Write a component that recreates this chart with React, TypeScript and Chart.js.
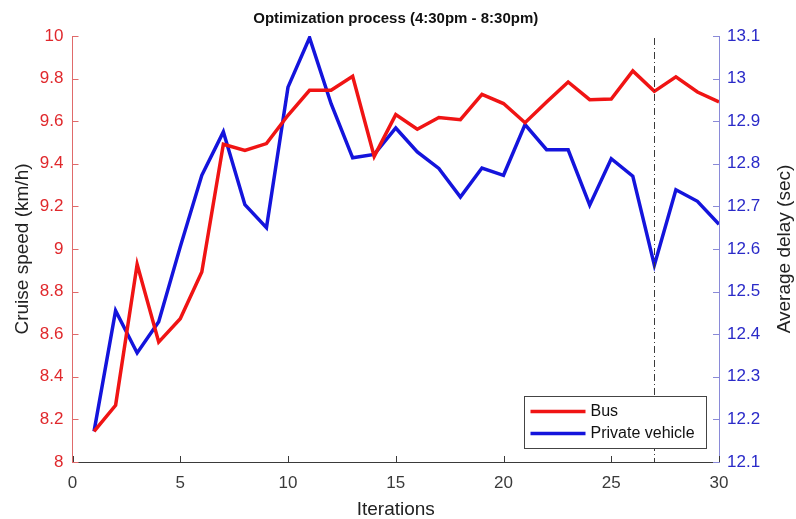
import { useEffect, useRef } from 'react';
import { Chart, registerables } from 'chart.js';

Chart.register(...registerables);

// Iteration index on the x axis
const iterations = [1, 2, 3, 4, 5, 6, 7, 8, 9, 10, 11, 12, 13, 14, 15, 16, 17, 18, 19, 20, 21, 22, 23, 24, 25, 26, 27, 28, 29, 30];

// Bus cruise speed (km/h), left axis
const busSpeed = [8.144, 8.266, 8.928, 8.563, 8.673, 8.892, 9.492, 9.463, 9.495, 9.628, 9.745, 9.745, 9.811, 9.435, 9.631, 9.562, 9.617, 9.607, 9.726, 9.683, 9.593, 9.69, 9.784, 9.701, 9.704, 9.836, 9.74, 9.808, 9.737, 9.69];

// Private vehicle average delay (sec), right axis
const privateDelay = [12.172, 12.455, 12.356, 12.429, 12.605, 12.773, 12.875, 12.704, 12.65, 12.98, 13.096, 12.941, 12.814, 12.822, 12.884, 12.828, 12.789, 12.722, 12.79, 12.773, 12.892, 12.833, 12.833, 12.703, 12.812, 12.771, 12.562, 12.739, 12.712, 12.658];

const seriesNames = ['Bus', 'Private vehicle'];
const selectedIteration = 27;

const titleText = 'Optimization process (4:30pm - 8:30pm)';
const xTitle = 'Iterations';
const leftTitle = 'Cruise speed (km/h)';
const rightTitle = 'Average delay (sec)';

const FONT = "'Liberation Sans', Arial, sans-serif";
const RED = '#f01414';
const BLUE = '#1414dc';
const LEFT_AXIS = '#e06a6a';
const RIGHT_AXIS = '#8a8ad8';
const LEFT_LABEL = '#e0282c';
const RIGHT_LABEL = '#2a2ac8';
const DARK = '#3a3a3a';

const fmt = (v: number) => String(parseFloat(Number(v).toFixed(1)));

const decorations = {
  id: 'decorations',
  afterDraw(chart: any) {
    const { ctx, chartArea: a, scales } = chart;
    const sx = scales.x;
    const sl = scales.y;
    const sr = scales.y1;
    const T = 6;
    ctx.save();
    ctx.lineWidth = 1;

    const seg = (x1: number, y1: number, x2: number, y2: number) => {
      ctx.beginPath();
      ctx.moveTo(x1, y1);
      ctx.lineTo(x2, y2);
      ctx.stroke();
    };

    // marker line at the chosen iteration (dash-dot)
    const mx = Math.round(sx.getPixelForValue(selectedIteration)) + 0.5;
    ctx.strokeStyle = DARK;
    ctx.setLineDash([7, 3, 1, 3]);
    seg(mx, a.top + 2, mx, a.bottom);
    ctx.setLineDash([]);

    // inward tick marks
    ctx.strokeStyle = DARK;
    sx.ticks.forEach((t: any) => {
      const px = Math.round(sx.getPixelForValue(t.value)) + 0.5;
      seg(px, a.bottom, px, a.bottom - T);
    });
    ctx.strokeStyle = LEFT_AXIS;
    sl.ticks.forEach((t: any) => {
      const py = Math.round(sl.getPixelForValue(t.value)) + 0.5;
      seg(a.left, py, a.left + T, py);
    });
    ctx.strokeStyle = RIGHT_AXIS;
    sr.ticks.forEach((t: any) => {
      const py = Math.round(sr.getPixelForValue(t.value)) + 0.5;
      seg(a.right, py, a.right - T, py);
    });

    // title
    ctx.fillStyle = '#111';
    ctx.font = `bold 15px ${FONT}`;
    ctx.textAlign = 'center';
    ctx.textBaseline = 'middle';
    ctx.fillText(titleText, (a.left + a.right) / 2, 19);

    // axis titles
    ctx.fillStyle = '#222';
    ctx.font = `19px ${FONT}`;
    ctx.fillText(xTitle, (a.left + a.right) / 2, 510);
    ctx.save();
    ctx.translate(23, (a.top + a.bottom) / 2);
    ctx.rotate(-Math.PI / 2);
    ctx.fillText(leftTitle, 0, 0);
    ctx.restore();
    ctx.save();
    ctx.translate(785, (a.top + a.bottom) / 2);
    ctx.rotate(-Math.PI / 2);
    ctx.fillText(rightTitle, 0, 0);
    ctx.restore();

    // legend box
    const bx = 524.5, by = 396.5, bw = 182, bh = 52;
    ctx.fillStyle = '#fff';
    ctx.fillRect(bx, by, bw, bh);
    ctx.strokeStyle = '#444';
    ctx.lineWidth = 1;
    ctx.strokeRect(bx, by, bw, bh);
    ctx.font = `16px ${FONT}`;
    ctx.textAlign = 'left';
    ctx.textBaseline = 'middle';
    chart.data.datasets.forEach((ds: any, i: number) => {
      const yy = by + 15 + i * 22;
      ctx.strokeStyle = ds.borderColor;
      ctx.lineWidth = 3.5;
      seg(bx + 6, yy, bx + 61, yy);
      ctx.fillStyle = '#111';
      ctx.fillText(ds.label, bx + 66, yy);
    });
    ctx.restore();
  },
};

export default function App() {
  const ref = useRef<HTMLCanvasElement | null>(null);

  useEffect(() => {
    if (!ref.current) return;
    const chart = new Chart(ref.current, {
      type: 'line',
      data: {
        datasets: [
          {
            label: seriesNames[0],
            data: iterations.map((it, i) => ({ x: it, y: busSpeed[i] })),
            borderColor: RED,
            borderWidth: 3.5,
            pointRadius: 0,
            yAxisID: 'y',
            tension: 0,
          },
          {
            label: seriesNames[1],
            data: iterations.map((it, i) => ({ x: it, y: privateDelay[i] })),
            borderColor: BLUE,
            borderWidth: 3.5,
            pointRadius: 0,
            yAxisID: 'y1',
            tension: 0,
          },
        ],
      },
      options: {
        responsive: false,
        animation: false,
        events: [],
        layout: { padding: { top: 36, left: 0, right: 0, bottom: 0 } },
        plugins: { legend: { display: false }, tooltip: { enabled: false }, title: { display: false } },
        scales: {
          x: {
            type: 'linear',
            min: 0,
            max: 30,
            grid: { display: false, drawTicks: false },
            border: { color: DARK, width: 1 },
            ticks: { stepSize: 5, color: DARK, font: { family: FONT, size: 17 }, padding: 11, maxRotation: 0 },
            afterFit: (s: any) => { s.height = 57; },
          },
          y: {
            type: 'linear',
            position: 'left',
            min: 8,
            max: 10,
            grid: { display: false, drawTicks: false },
            border: { color: LEFT_AXIS, width: 1 },
            ticks: { stepSize: 0.2, color: LEFT_LABEL, font: { family: FONT, size: 17 }, padding: 9, callback: (v: any) => fmt(v) },
            afterFit: (s: any) => { s.width = 72.5; },
          },
          y1: {
            type: 'linear',
            position: 'right',
            min: 12.1,
            max: 13.1,
            grid: { display: false, drawTicks: false },
            border: { color: RIGHT_AXIS, width: 1 },
            ticks: { stepSize: 0.1, color: RIGHT_LABEL, font: { family: FONT, size: 17 }, padding: 8, callback: (v: any) => fmt(v) },
            afterFit: (s: any) => { s.width = 77; },
          },
        },
      },
      plugins: [decorations],
    });
    return () => chart.destroy();
  }, []);

  return (
    <div style={{ position: 'fixed', left: 0, top: 0, width: 796, height: 519, background: '#fff' }}>
      <canvas ref={ref} width={796} height={519} style={{ display: 'block' }} />
    </div>
  );
}
